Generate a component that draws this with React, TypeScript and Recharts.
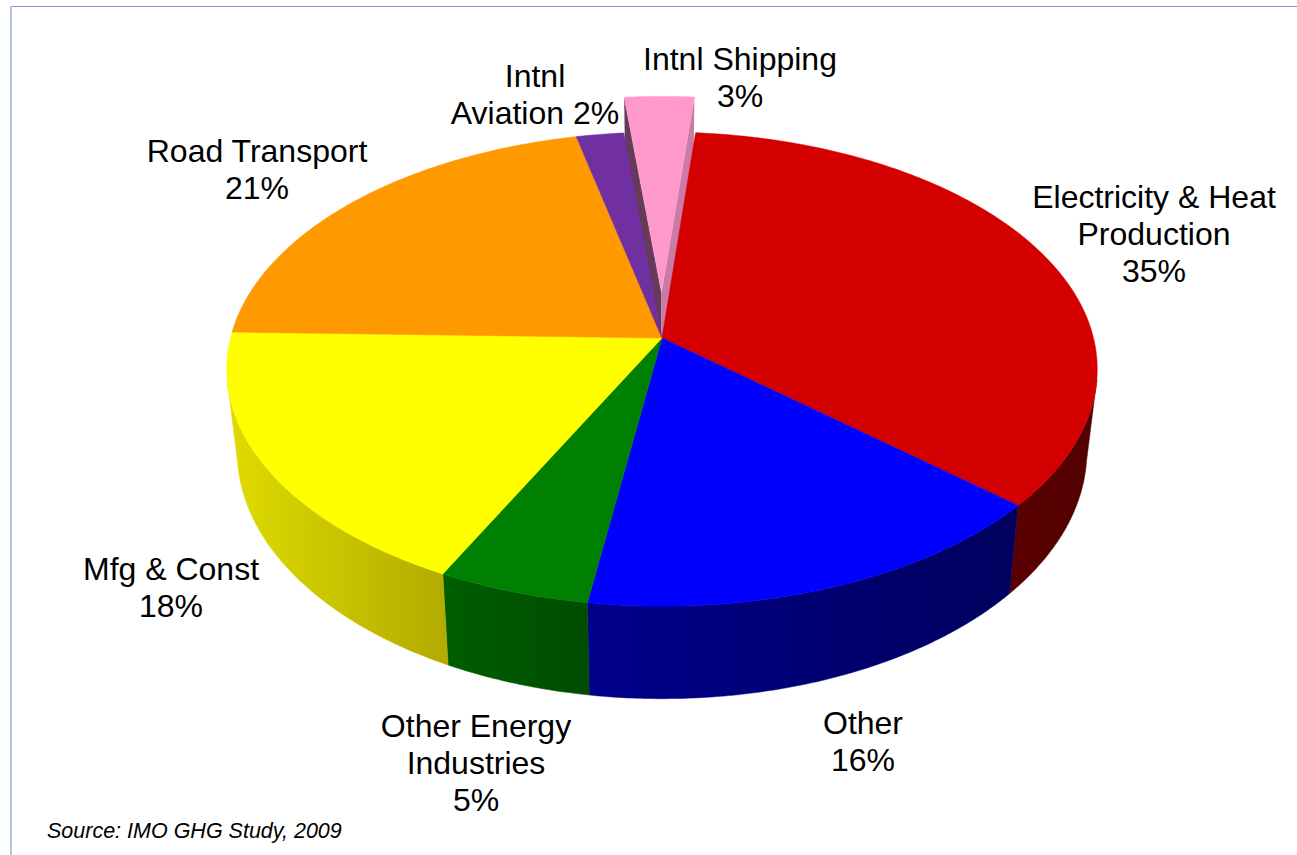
import { Pie, PieChart } from "recharts";

// Emission shares by source, in clockwise order starting from the pulled-out slice
const categories = [
  "Intnl Shipping",
  "Electricity & Heat Production",
  "Other",
  "Other Energy Industries",
  "Mfg & Const",
  "Road Transport",
  "Intnl Aviation",
];
const shares = [3, 35, 16, 5, 18, 21, 2];

// "#" stands in for the share
const labelLines = [
  ["Intnl Shipping", "#%"],
  ["Electricity & Heat", "Production", "#%"],
  ["Other", "#%"],
  ["Other Energy", "Industries", "#%"],
  ["Mfg & Const", "#%"],
  ["Road Transport", "#%"],
  ["Intnl", "Aviation #%"],
];

const topColors = ["#ff99cc", "#d40000", "#0000ff", "#008000", "#ffff00", "#ff9900", "#7030a0"];
const wallStops = [
  ["#663a5a", "#cc7aa6"],
  ["#5a0000", "#520000"],
  ["#00008c", "#00005e"],
  ["#005e00", "#004c00"],
  ["#e0dc00", "#b2aa00"],
  ["#996000", "#996000"],
  ["#401c60", "#401c60"],
];
const explode = [0.2, 0, 0, 0, 0, 0, 0];

const labelX = [740, 1154, 863, 476, 171, 257, 535];
const labelY = [70, 208, 734, 737, 580, 162, 87];
const LINE_HEIGHT = 37;

// Perspective of the tilted disc
const K = 0.131;
const TILT = 0.54;
const DROP = 81;
const BASE_X = 0.976;
const BASE_Y = 1.043;
const FIRST_ANGLE = -264.25;

const rad = (deg: number) => (deg * Math.PI) / 180;

function planePoint(cw: number, radius: number, shift: number, mid: number) {
  return {
    u: radius * Math.sin(rad(cw)) + shift * Math.sin(rad(mid)),
    v: radius * Math.cos(rad(cw)) + shift * Math.cos(rad(mid)),
  };
}

function topPoint(p: { u: number; v: number }, cx: number, cy: number, R: number) {
  const w = 1 + K * p.v;
  return [cx + (R * p.u) / w, cy - (R * TILT * p.v) / w];
}

function basePoint(p: { u: number; v: number }, cx: number, cy: number, R: number) {
  const w = 1 + K * p.v;
  return [cx + (R * BASE_X * p.u) / w, cy + DROP - (R * TILT * BASE_Y * p.v) / w];
}

const toPath = (pts: number[][]) =>
  "M" + pts.map((p) => `${p[0].toFixed(1)},${p[1].toFixed(1)}`).join("L") + "Z";

function arcAngles(from: number, to: number) {
  const out: number[] = [];
  for (let a = from; a < to; a += 0.5) out.push(a);
  out.push(to);
  return out;
}

function Slice3D(props: any) {
  const { cx, cy, outerRadius: R, startAngle, endAngle } = props;
  const index = categories.indexOf(props.name ?? props.payload?.name);
  // Recharts angles run counter-clockwise from 3 o'clock, the disc is worked out clockwise from 12
  const start = 90 - startAngle;
  const end = 90 - endAngle;
  const mid = (start + end) / 2;
  const shift = explode[index];
  const rim = (cw: number) => planePoint(cw, 1, shift, mid);
  const hub = planePoint(0, 0, shift, mid);
  const top = (p: { u: number; v: number }) => topPoint(p, cx, cy, R);
  const base = (p: { u: number; v: number }) => basePoint(p, cx, cy, R);

  const face = [top(hub), ...arcAngles(start, end).map((a) => top(rim(a)))];

  // Only the front of the rim shows a side wall
  const shifted = ((start % 360) + 360) % 360;
  const span = end - start;
  const wallFrom = Math.max(shifted, 100);
  const wallTo = Math.min(shifted + span, 260);
  const hasWall = shift === 0 && wallTo > wallFrom;
  const wallAngles = hasWall ? arcAngles(wallFrom, wallTo) : [];
  const wall = [
    ...wallAngles.map((a) => top(rim(a))),
    ...wallAngles.slice().reverse().map((a) => base(rim(a))),
  ];
  const wallXs = wall.map((p) => p[0]);
  const gradId = `wall-${index}`;

  return (
    <g>
      {hasWall && (
        <>
          <defs>
            <linearGradient
              id={gradId}
              gradientUnits="userSpaceOnUse"
              x1={Math.min(...wallXs)}
              x2={Math.max(...wallXs)}
              y1={0}
              y2={0}
            >
              <stop offset="0%" stopColor={wallStops[index][0]} />
              <stop offset="100%" stopColor={wallStops[index][1]} />
            </linearGradient>
          </defs>
          <path d={toPath(wall)} fill={`url(#${gradId})`} stroke={`url(#${gradId})`} strokeWidth={0.5} />
        </>
      )}
      {shift > 0 && (
        <>
          {/* cut faces of the pulled-out slice */}
          <path d={toPath([top(rim(start)), top(hub), base(hub), base(rim(start))])} fill={wallStops[index][0]} />
          <path d={toPath([top(rim(end)), top(hub), base(hub), base(rim(end))])} fill={wallStops[index][1]} />
        </>
      )}
      <path d={toPath(face)} fill={topColors[index]} stroke={topColors[index]} strokeWidth={0.5} />
    </g>
  );
}

function SliceLabel(props: any) {
  const index = categories.indexOf(props.name ?? props.payload?.name);
  const lines = labelLines[index].map((line) => line.replace("#", String(props.value)));
  return (
    <text
      x={labelX[index]}
      y={labelY[index]}
      textAnchor="middle"
      fontFamily="'Liberation Sans', Arial, sans-serif"
      fontSize={32}
      fill="#000000"
    >
      {lines.map((line, i) => (
        <tspan key={line} x={labelX[index]} dy={i === 0 ? 0 : LINE_HEIGHT}>
          {line}
        </tspan>
      ))}
    </text>
  );
}

const tableData = categories.map((name, i) => ({ name, value: shares[i] }));

export default function App() {
  return (
    <div style={{ position: "absolute", left: 0, top: 0, width: 1297, height: 855, background: "#ffffff", overflow: "hidden" }}>
      <div style={{ position: "absolute", left: 10, top: 6, right: 0, height: 1, background: "#7a99bd" }} />
      <div style={{ position: "absolute", left: 10, top: 6, bottom: 0, width: 1.5, background: "#b4c6e0" }} />
      <PieChart width={1297} height={855} margin={{ top: 0, right: 0, bottom: 0, left: 0 }}>
        <Pie
          data={tableData}
          dataKey="value"
          nameKey="name"
          cx={662}
          cy={338}
          outerRadius={431.5}
          startAngle={FIRST_ANGLE}
          endAngle={FIRST_ANGLE - 360}
          stroke="none"
          shape={Slice3D}
          label={SliceLabel}
          labelLine={false}
          isAnimationActive={false}
        />
      </PieChart>
      <div
        style={{
          position: "absolute",
          left: 47,
          top: 819,
          fontFamily: "'Liberation Sans', Arial, sans-serif",
          fontStyle: "italic",
          fontSize: 21.5,
          lineHeight: "24px",
          color: "#000000",
          whiteSpace: "nowrap",
        }}
      >
        Source: IMO GHG Study, 2009
      </div>
    </div>
  );
}
